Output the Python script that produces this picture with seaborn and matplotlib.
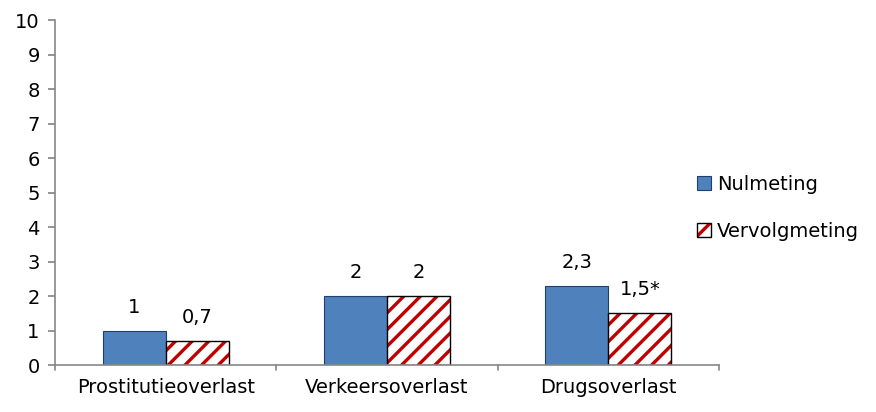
import matplotlib
matplotlib.use("Agg")
import matplotlib.pyplot as plt
import seaborn as sns
import pandas as pd
from matplotlib.patches import Rectangle, Patch
from matplotlib.legend_handler import HandlerTuple

categories = ["Prostitutieoverlast", "Verkeersoverlast", "Drugsoverlast"]
series = ["Nulmeting", "Vervolgmeting"]
nulmeting = [1.0, 2.0, 2.3]
vervolgmeting = [0.7, 2.0, 1.5]
labels_nul = ["1", "2", "2,3"]
labels_ver = ["0,7", "2", "1,5*"]
yticks = list(range(0, 11))

sns.set_theme(style="white")
plt.rcParams['font.family'] = ['DejaVu Sans']
plt.rcParams['hatch.linewidth'] = 2.4
plt.rcParams['text.color'] = 'black'
plt.rcParams['xtick.color'] = 'black'
plt.rcParams['ytick.color'] = 'black'

BLUE = "#4F81BD"
RED = "#C00000"
GREY = "#868686"
FS = 14

df = pd.DataFrame({
    "cat": categories * 2,
    "serie": [series[0]] * 3 + [series[1]] * 3,
    "val": nulmeting + vervolgmeting,
})

fig = plt.figure(figsize=(8.76, 4.12), dpi=100)
ax = fig.add_axes([0.0628, 0.114, 0.758, 0.837])
sns.barplot(data=df, x="cat", y="val", hue="serie", order=categories,
            hue_order=series, palette=[BLUE, "white"], width=0.57,
            ax=ax, legend=False, saturation=1)

blue_c, red_c = ax.containers[0], ax.containers[1]
for p in blue_c.patches:
    p.set_edgecolor("#1F3F6F")
    p.set_linewidth(0.8)
for p in red_c.patches:
    p.set_facecolor("white")
    p.set_hatch("//")
    p.set_edgecolor(RED)
    p.set_linewidth(0)
    if hasattr(p, "set_hatchcolor"):
        p.set_hatchcolor(RED)
    r = Rectangle(p.get_xy(), p.get_width(), p.get_height(), fill=False,
                  edgecolor="black", linewidth=1.0, zorder=p.get_zorder() + 0.1)
    ax.add_patch(r)

for cont, labs in ((blue_c, labels_nul), (red_c, labels_ver)):
    for p, t in zip(cont.patches, labs):
        ax.annotate(t, (p.get_x() + p.get_width() / 2, p.get_height()),
                    xytext=(0, 10), textcoords="offset points",
                    ha="center", va="bottom", fontsize=FS, color="black")

ax.set_ylim(0, 10)
ax.set_yticks(yticks)
ax.set_yticklabels([str(v) for v in yticks], fontsize=FS, color="black")
ax.set_xlim(-0.5, 2.5)
ax.set_xticks([0, 1, 2])
ax.set_xticklabels(categories, fontsize=FS, color="black")
ax.tick_params(axis="x", length=0, pad=9)
ax.tick_params(axis="y", length=5, direction="out", color=GREY, pad=6, left=True)
for x in [-0.5, 0.5, 1.5, 2.5]:
    ax.plot([x, x], [0, -0.15], color=GREY, lw=1.2, clip_on=False)
ax.set_xlabel("")
ax.set_ylabel("")
for s in ["top", "right"]:
    ax.spines[s].set_visible(False)
for s in ["left", "bottom"]:
    ax.spines[s].set_color(GREY)
    ax.spines[s].set_linewidth(1.2)

h_blue = Patch(facecolor=BLUE, edgecolor="#1F3F6F", linewidth=0.8)
h_hatch = Patch(facecolor="white", edgecolor=RED, hatch="//", linewidth=0)
if hasattr(h_hatch, "set_hatchcolor"):
    h_hatch.set_hatchcolor(RED)
h_outline = Patch(facecolor="none", edgecolor="black", linewidth=1.0)
leg = ax.legend([h_blue, (h_hatch, h_outline)], series, loc="center left",
                bbox_to_anchor=(0.94, 0.456), frameon=False, fontsize=FS,
                handlelength=0.75, handleheight=0.75, handletextpad=0.3,
                labelspacing=1.45,
                handler_map={tuple: HandlerTuple(ndivide=1, pad=0)})
for t in leg.get_texts():
    t.set_color("black")
fig.savefig("out.png", dpi=100)
